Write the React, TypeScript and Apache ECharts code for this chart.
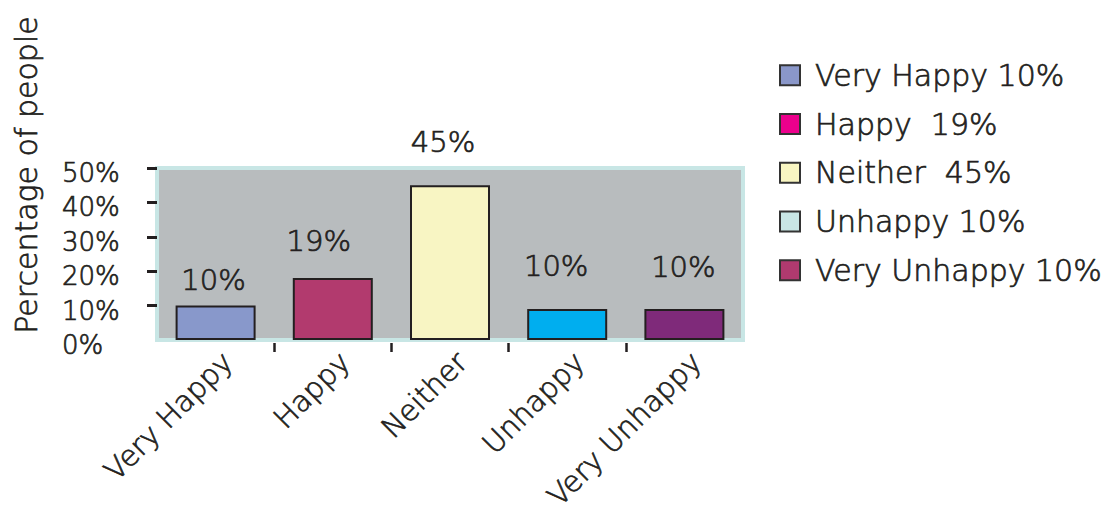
import React, { useEffect, useRef } from "react";
import * as echarts from "echarts";

// ---- data ----
const categories = ["Very Happy", "Happy", "Neither", "Unhappy", "Very Unhappy"];
const values = [10, 18, 45, 9, 9];
const valueLabels = ["10%", "19%", "45%", "10%", "10%"];
const legendTexts = ["Very Happy 10%", "Happy  19%", "Neither  45%", "Unhappy 10%", "Very Unhappy 10%"];
const yTickValues = [10, 20, 30, 40, 50];
const xTickValues = [1, 2, 3, 4];

// ---- styles ----
const barColors = ["#8898cb", "#b23a6e", "#f8f5c3", "#00aeef", "#7f2a7a"];
const legendColors = ["#8a97c9", "#ec008c", "#f9f6c2", "#c8e6e5", "#b03a6f"];
const labelOffsets = [
  [-2, -11],
  [-14, -23],
  [-7, -29],
  [-11, -29],
  [-1, -28],
];
const FONT = "'DejaVu Sans', sans-serif";
const WEIGHT = 200;
const TEXT = "#231f20";
const STROKE = { textBorderColor: TEXT, textBorderWidth: 0.7 };

export default function App() {
  const ref = useRef<HTMLDivElement>(null);
  useEffect(() => {
    if (!ref.current) return;
    const chart = echarts.init(ref.current, null, { renderer: "svg" });
    const series = categories.map((name, k) => ({
      name,
      type: "bar",
      stack: "total",
      barWidth: 80,
      xAxisIndex: 0,
      yAxisIndex: 0,
      data: values.map((v, i) => (i === k ? v : "-")),
      itemStyle: { color: barColors[k], borderColor: TEXT, borderWidth: 2 },
      label: {
        show: true,
        position: "top",
        distance: 0,
        offset: labelOffsets[k],
        formatter: () => valueLabels[k],
        fontFamily: FONT,
        fontWeight: WEIGHT,
        fontSize: 29,
        color: TEXT,
        ...STROKE,
      },
    }));
    chart.setOption({
      animation: false,
      backgroundColor: "#ffffff",
      grid: {
        left: 157,
        top: 168,
        width: 586,
        height: 172,
        show: true,
        backgroundColor: "#b8bcbe",
        borderColor: "#c8e6e5",
        borderWidth: 4,
        containLabel: false,
      },
      legend: {
        orient: "vertical",
        left: 779,
        top: 60,
        padding: 0,
        itemWidth: 20,
        itemHeight: 20,
        itemGap: 18,
        icon: "rect",
        selectedMode: false,
        itemStyle: { borderColor: "#333333", borderWidth: 2 },
        textStyle: {
          fontFamily: FONT,
          fontWeight: WEIGHT,
          fontSize: 30,
          lineHeight: 30,
          color: TEXT,
          padding: [0, 0, 0, 10],
          ...STROKE,
        },
        formatter: (name: string) => legendTexts[categories.indexOf(name)],
        data: categories.map((name, i) => ({
          name,
          itemStyle: { color: legendColors[i], borderColor: "#333333", borderWidth: 2 },
        })),
      },
      xAxis: [
        {
          type: "category",
          data: categories,
          axisLine: { show: false },
          axisTick: { show: false },
          axisLabel: {
            rotate: 45,
            margin: 29,
            padding: [0, -17, 0, 0],
            fontFamily: FONT,
            fontWeight: WEIGHT,
            fontSize: 29,
            color: TEXT,
            interval: 0,
            ...STROKE,
          },
        },
        {
          type: "value",
          min: 0,
          max: 5,
          interval: 1,
          position: "bottom",
          offset: 3,
          axisLine: { show: false },
          axisLabel: { show: false },
          splitLine: { show: false },
          axisTick: {
            show: true,
            customValues: xTickValues,
            length: 9,
            lineStyle: { color: TEXT, width: 2.5 },
          },
        },
      ],
      yAxis: {
        type: "value",
        min: 0,
        max: 50,
        interval: 10,
        axisLine: { show: false },
        splitLine: { show: false },
        axisTick: {
          show: true,
          customValues: yTickValues,
          length: 10,
          lineStyle: { color: TEXT, width: 3 },
        },
        axisLabel: {
          formatter: (v: number) => `{v|${v}%}`,
          align: "left",
          margin: 95,
          rich: {
            v: {
              padding: [10, 0, 0, 0],
              fontFamily: FONT,
              fontWeight: WEIGHT,
              fontSize: 26,
              color: TEXT,
              ...STROKE,
            },
          },
          fontFamily: FONT,
          fontWeight: WEIGHT,
          fontSize: 26,
          color: TEXT,
        },
      },
      graphic: [
        {
          type: "text",
          x: 26,
          y: 175,
          rotation: Math.PI / 2,
          style: {
            text: "Percentage of people",
            fontFamily: FONT,
            fontWeight: WEIGHT,
            fontSize: 30,
            fill: TEXT,
            stroke: TEXT,
            lineWidth: 0.7,
            align: "center",
            verticalAlign: "middle",
          },
        },
      ],
      series,
    });
    return () => chart.dispose();
  }, []);
  return (
    <div
      ref={ref}
      style={{ position: "absolute", left: 0, top: 0, width: 1113, height: 514 }}
    />
  );
}
